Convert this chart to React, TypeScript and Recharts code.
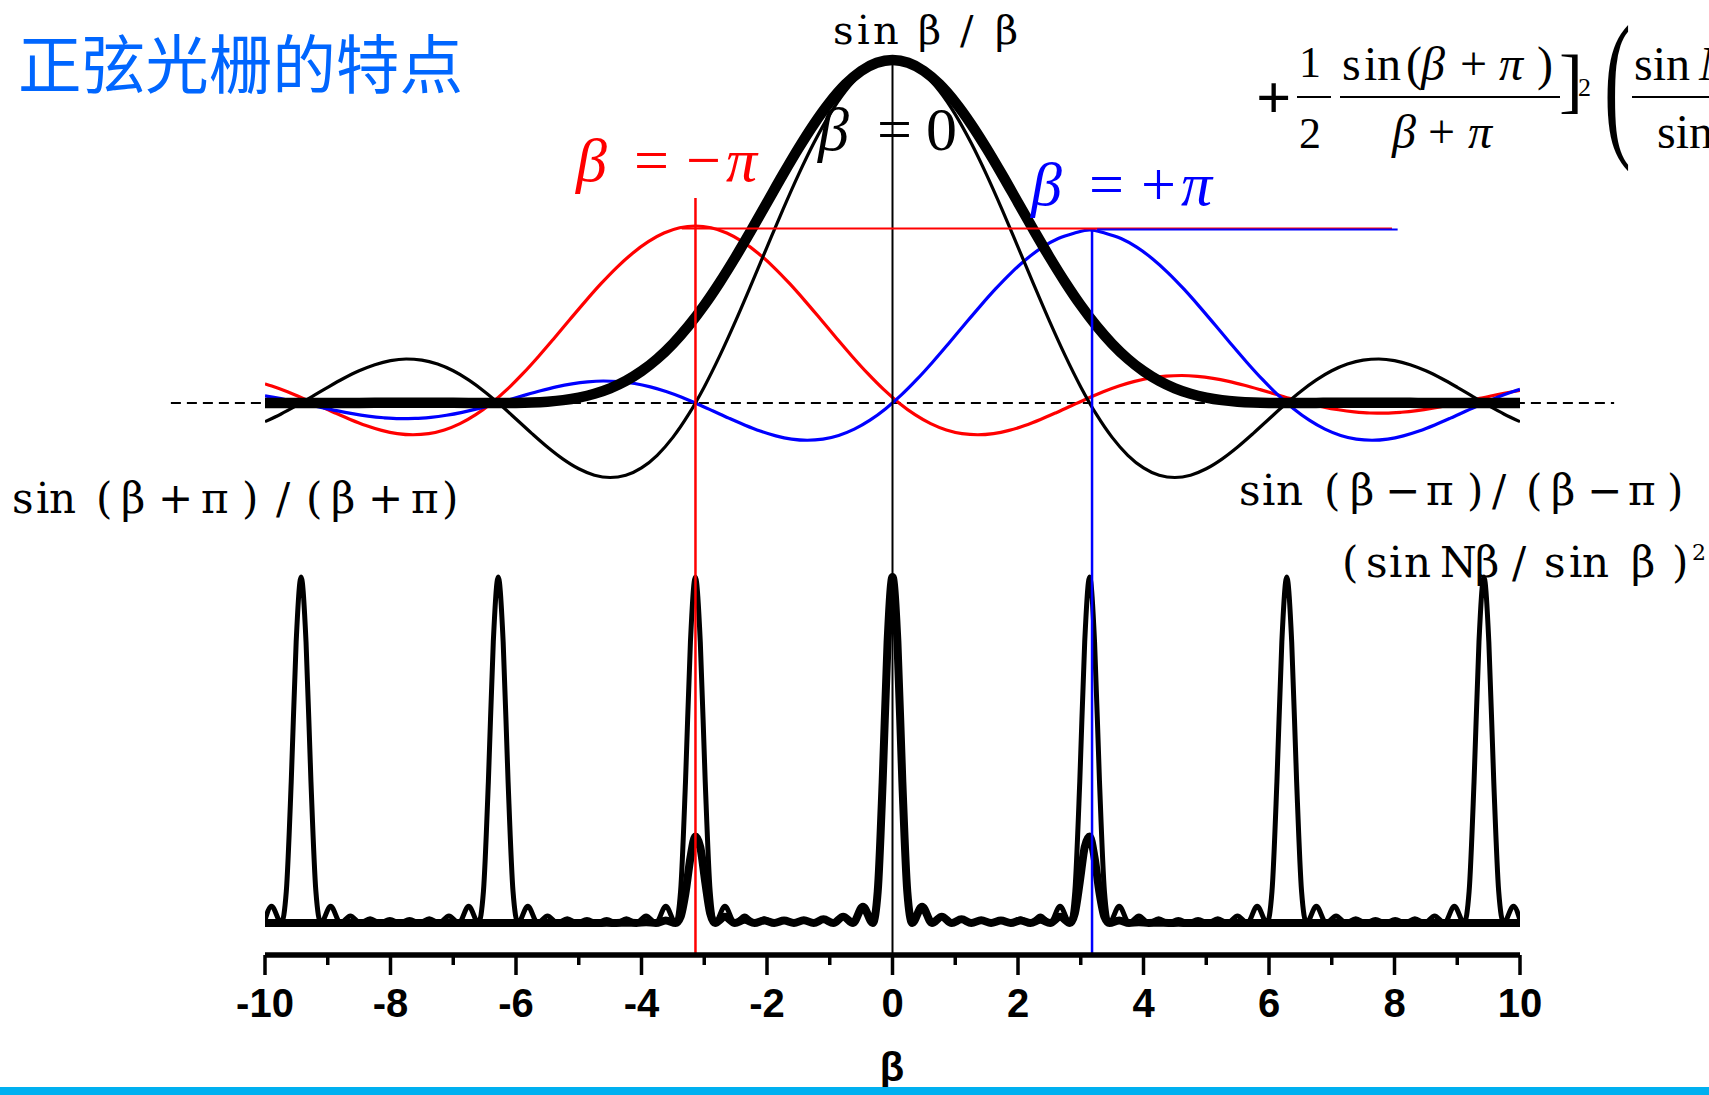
import React from 'react';
import { ComposedChart, Line, XAxis, YAxis, ReferenceLine } from 'recharts';

const W = 1709;
const H = 1095;

// ---------- upper panel (single-slit style curves), beta step 0.25 ----------
const betaUpper = [
  -10, -9.75, -9.5, -9.25, -9, -8.75, -8.5, -8.25, -8, -7.75, -7.5, -7.25, -7, -6.75, -6.5, -6.25,
  -6, -5.75, -5.5, -5.25, -5, -4.75, -4.5, -4.25, -4, -3.75, -3.5, -3.25, -3, -2.75, -2.5, -2.25,
  -2, -1.75, -1.5, -1.25, -1, -0.75, -0.5, -0.25, 0, 0.25, 0.5, 0.75, 1, 1.25, 1.5, 1.75,
  2, 2.25, 2.5, 2.75, 3, 3.25, 3.5, 3.75, 4, 4.25, 4.5, 4.75, 5, 5.25, 5.5, 5.75,
  6, 6.25, 6.5, 6.75, 7, 7.25, 7.5, 7.75, 8, 8.25, 8.5, 8.75, 9, 9.25, 9.5, 9.75, 10,
];

// sin(beta)/beta  (thin black)
const sincValues = [
  -0.0544, -0.0327, -0.0079, 0.0188, 0.0458, 0.0714, 0.0939, 0.1118, 0.1237, 0.1283, 0.1251, 0.1135, 0.0939, 0.0667, 0.0331, -0.0053,
  -0.0466, -0.0884, -0.1283, -0.1636, -0.1918, -0.2104, -0.2172, -0.2106, -0.1892, -0.1524, -0.1002, -0.0333, 0.047, 0.1388, 0.2394, 0.3458,
  0.4546, 0.5623, 0.665, 0.7592, 0.8415, 0.9089, 0.9589, 0.9896, 1, 0.9896, 0.9589, 0.9089, 0.8415, 0.7592, 0.665, 0.5623,
  0.4546, 0.3458, 0.2394, 0.1388, 0.047, -0.0333, -0.1002, -0.1524, -0.1892, -0.2106, -0.2172, -0.2104, -0.1918, -0.1636, -0.1283, -0.0884,
  -0.0466, -0.0053, 0.0331, 0.0667, 0.0939, 0.1135, 0.1251, 0.1283, 0.1237, 0.1118, 0.0939, 0.0714, 0.0458, 0.0188, -0.0079, -0.0327, -0.0544,
];

// squared sum envelope (thick black)
const envelopeValues = [
  0, 0, 0, 0, 0, 0.0001, 0.0002, 0.0004, 0.0005, 0.0006, 0.0007, 0.0007, 0.0006, 0.0003, 0.0001, 0,
  0.0003, 0.0014, 0.0039, 0.0083, 0.0157, 0.0268, 0.0427, 0.0644, 0.0928, 0.1287, 0.1727, 0.2248, 0.285, 0.3526, 0.4261, 0.5041,
  0.5843, 0.6647, 0.742, 0.8136, 0.8768, 0.929, 0.9679, 0.9918, 1, 0.9918, 0.9679, 0.929, 0.8768, 0.8136, 0.742, 0.6647,
  0.5843, 0.5041, 0.4261, 0.3526, 0.285, 0.2248, 0.1727, 0.1287, 0.0928, 0.0644, 0.0427, 0.0268, 0.0157, 0.0083, 0.0039, 0.0014,
  0.0003, 0, 0.0001, 0.0003, 0.0006, 0.0007, 0.0007, 0.0006, 0.0005, 0.0004, 0.0002, 0.0001, 0, 0, 0, 0, 0,
];

// sin(beta+pi)/(beta+pi) (red)
const redBeta = [
  -10, -9.8916, -9.6416, -9.3916, -9.1416, -8.8916, -8.6416, -8.3916, -8.1416, -7.8916, -7.6416, -7.3916, -7.1416, -6.8916,
  -6.6416, -6.3916, -6.1416, -5.8916, -5.6416, -5.3916, -5.1416, -4.8916, -4.6416, -4.3916, -4.1416, -3.8916, -3.6416, -3.3916,
  -3.1416, -2.8916, -2.6416, -2.3916, -2.1416, -1.8916, -1.6416, -1.3916, -1.1416, -0.8916, -0.6416, -0.3916, -0.1416, 0.1084,
  0.3584, 0.6084, 0.8584, 1.1084, 1.3584, 1.6084, 1.8584, 2.1084, 2.3584, 2.6084, 2.8584, 3.1084, 3.3584, 3.6084,
  3.8584, 4.1084, 4.3584, 4.6084, 4.8584, 5.1084, 5.3584, 5.6084, 5.8584, 6.1084, 6.3584, 6.6084, 6.8584, 7.1084,
  7.3584, 7.6084, 7.8584, 8.1084, 8.3584, 8.6084, 8.8584, 9.1084, 9.3584, 9.6084, 9.8584, 10,
];
const redValues = [
  0.0557, 0.0493, 0.0326, 0.0133, -0.0073, -0.0282, -0.0481, -0.0658, -0.0799, -0.0892, -0.0926, -0.0893, -0.0786, -0.0602,
  -0.0341, -0.0006, 0.0395, 0.0854, 0.1357, 0.1889, 0.2433, 0.2971, 0.3485, 0.3956, 0.4367, 0.4704, 0.4954, 0.5108,
  0.516, 0.5108, 0.4954, 0.4704, 0.4367, 0.3956, 0.3485, 0.2971, 0.2433, 0.1889, 0.1357, 0.0854, 0.0395, -0.0006,
  -0.0341, -0.0602, -0.0786, -0.0893, -0.0926, -0.0892, -0.0799, -0.0658, -0.0481, -0.0282, -0.0073, 0.0133, 0.0326, 0.0493,
  0.0629, 0.0728, 0.0785, 0.0802, 0.0778, 0.0719, 0.063, 0.0517, 0.0389, 0.0254, 0.012, -0.0004, -0.0112, -0.0198,
  -0.0259, -0.0291, -0.0295, -0.027, -0.0221, -0.015, -0.0064, 0.0033, 0.0133, 0.0232, 0.0322, 0.0367,
];

// sin(beta-pi)/(beta-pi) (blue)
const blueBeta = [
  -10, -9.8584, -9.6084, -9.3584, -9.1084, -8.8584, -8.6084, -8.3584, -8.1084, -7.8584, -7.6084, -7.3584, -7.1084, -6.8584,
  -6.6084, -6.3584, -6.1084, -5.8584, -5.6084, -5.3584, -5.1084, -4.8584, -4.6084, -4.3584, -4.1084, -3.8584, -3.6084, -3.3584,
  -3.1084, -2.8584, -2.6084, -2.3584, -2.1084, -1.8584, -1.6084, -1.3584, -1.1084, -0.8584, -0.6084, -0.3584, -0.1084, 0.1416,
  0.3916, 0.6416, 0.8916, 1.1416, 1.3916, 1.6416, 1.8916, 2.1416, 2.3916, 2.6416, 2.8916, 3.1416, 3.3916, 3.6416,
  3.8916, 4.1416, 4.3916, 4.6416, 4.8916, 5.1416, 5.3916, 5.6416, 5.8916, 6.1416, 6.3916, 6.6416, 6.8916, 7.1416,
  7.3916, 7.6416, 7.8916, 8.1416, 8.3916, 8.6416, 8.8916, 9.1416, 9.3916, 9.6416, 9.8916, 10,
];
const blueValues = [
  0.0207, 0.0162, 0.0072, -0.0027, -0.0127, -0.0224, -0.031, -0.0381, -0.043, -0.0455, -0.0451, -0.0419, -0.0358, -0.0272,
  -0.0164, -0.004, 0.0094, 0.0229, 0.0357, 0.047, 0.0559, 0.0618, 0.0642, 0.0625, 0.0568, 0.0469, 0.0333, 0.0166,
  -0.0027, -0.0233, -0.0442, -0.0641, -0.0818, -0.0959, -0.1052, -0.1086, -0.1053, -0.0946, -0.0762, -0.0501, -0.0166, 0.0235,
  0.0694, 0.1197, 0.1729, 0.2273, 0.2811, 0.3325, 0.3796, 0.4207, 0.4544, 0.4794, 0.4948, 0.505, 0.4948, 0.4794,
  0.4544, 0.4207, 0.3796, 0.3325, 0.2811, 0.2273, 0.1729, 0.1197, 0.0694, 0.0235, -0.0166, -0.0501, -0.0762, -0.0946,
  -0.1053, -0.1086, -0.1052, -0.0959, -0.0818, -0.0641, -0.0442, -0.0233, -0.0027, 0.0166, 0.0333, 0.0397,
];

// ---------- lower panel: grating factor (sinN beta / sin beta)^2 / N^2 and product ----------
const betaLower = [
  -10, -9.896, -9.7389, -9.6604, -9.5819, -9.5033,
  -9.4248, -9.3462, -9.2677, -9.1892, -9.1106, -8.9535, -8.7965, -8.6394, -8.4823, -8.3252, -8.1681, -8.0111,
  -7.854, -7.6969, -7.5398, -7.3827, -7.2257, -7.0686, -6.9115, -6.7544, -6.5973, -6.5188, -6.4403, -6.3617,
  -6.2832, -6.2046, -6.1261, -6.0476, -5.969, -5.8119, -5.6549, -5.4978, -5.3407, -5.1836, -5.0265, -4.8695,
  -4.7124, -4.5553, -4.3982, -4.2412, -4.0841, -3.927, -3.7699, -3.6128, -3.4558, -3.3772, -3.2987, -3.2201,
  -3.1416, -3.0631, -2.9845, -2.906, -2.8274, -2.6704, -2.5133, -2.3562, -2.1991, -2.042, -1.885, -1.7279,
  -1.5708, -1.4137, -1.2566, -1.0996, -0.9425, -0.7854, -0.6283, -0.4712, -0.3142, -0.2356, -0.1571, -0.0785,
  0, 0.0785, 0.1571, 0.2356, 0.3142, 0.4712, 0.6283, 0.7854, 0.9425, 1.0996, 1.2566, 1.4137,
  1.5708, 1.7279, 1.885, 2.042, 2.1991, 2.3562, 2.5133, 2.6704, 2.8274, 2.906, 2.9845, 3.0631,
  3.1416, 3.2201, 3.2987, 3.3772, 3.4558, 3.6128, 3.7699, 3.927, 4.0841, 4.2412, 4.3982, 4.5553,
  4.7124, 4.8695, 5.0265, 5.1836, 5.3407, 5.4978, 5.6549, 5.8119, 5.969, 6.0476, 6.1261, 6.2046,
  6.2832, 6.3617, 6.4403, 6.5188, 6.5973, 6.7544, 6.9115, 7.0686, 7.2257, 7.3827, 7.5398, 7.6969,
  7.854, 8.0111, 8.1681, 8.3252, 8.4823, 8.6394, 8.7965, 8.9535, 9.1106, 9.1892, 9.2677, 9.3462,
  9.4248, 9.5033, 9.5819, 9.6604, 9.7389, 9.896, 10,
];
const gratingValues = [
  0.0087, 0.0485, 0, 0.0917, 0.4086, 0.8123,
  1, 0.8123, 0.4086, 0.0917, 0, 0.0485, 0, 0.02, 0, 0.0126, 0, 0.0103,
  0, 0.0103, 0, 0.0126, 0, 0.02, 0, 0.0485, 0, 0.0917, 0.4086, 0.8123,
  1, 0.8123, 0.4086, 0.0917, 0, 0.0485, 0, 0.02, 0, 0.0126, 0, 0.0103,
  0, 0.0103, 0, 0.0126, 0, 0.02, 0, 0.0485, 0, 0.0917, 0.4086, 0.8123,
  1, 0.8123, 0.4086, 0.0917, 0, 0.0485, 0, 0.02, 0, 0.0126, 0, 0.0103,
  0, 0.0103, 0, 0.0126, 0, 0.02, 0, 0.0485, 0, 0.0917, 0.4086, 0.8123,
  1, 0.8123, 0.4086, 0.0917, 0, 0.0485, 0, 0.02, 0, 0.0126, 0, 0.0103,
  0, 0.0103, 0, 0.0126, 0, 0.02, 0, 0.0485, 0, 0.0917, 0.4086, 0.8123,
  1, 0.8123, 0.4086, 0.0917, 0, 0.0485, 0, 0.02, 0, 0.0126, 0, 0.0103,
  0, 0.0103, 0, 0.0126, 0, 0.02, 0, 0.0485, 0, 0.0917, 0.4086, 0.8123,
  1, 0.8123, 0.4086, 0.0917, 0, 0.0485, 0, 0.02, 0, 0.0126, 0, 0.0103,
  0, 0.0103, 0, 0.0126, 0, 0.02, 0, 0.0485, 0, 0.0917, 0.4086, 0.8123,
  1, 0.8123, 0.4086, 0.0917, 0, 0.0485, 0.0087,
];
const productValues = [
  0, 0, 0, 0, 0, 0,
  0, 0, 0, 0, 0, 0, 0, 0, 0, 0, 0, 0,
  0, 0, 0, 0, 0, 0, 0, 0, 0, 0, 0, 0,
  0, 0, 0, 0, 0, 0, 0, 0.0001, 0, 0.0001, 0, 0.0002,
  0, 0.0004, 0, 0.0008, 0, 0.0021, 0, 0.0074, 0, 0.0181, 0.0874, 0.1887,
  0.25, 0.2192, 0.1187, 0.0284, 0, 0.0182, 0, 0.0094, 0, 0.0072, 0, 0.0069,
  0, 0.0079, 0, 0.0107, 0, 0.0184, 0, 0.0471, 0, 0.091, 0.4073, 0.8116,
  1, 0.8116, 0.4073, 0.091, 0, 0.0471, 0, 0.0184, 0, 0.0107, 0, 0.0079,
  0, 0.0069, 0, 0.0072, 0, 0.0094, 0, 0.0182, 0, 0.0284, 0.1187, 0.2192,
  0.25, 0.1887, 0.0874, 0.0181, 0, 0.0074, 0, 0.0021, 0, 0.0008, 0, 0.0004,
  0, 0.0002, 0, 0.0001, 0, 0.0001, 0, 0, 0, 0, 0, 0,
  0, 0, 0, 0, 0, 0, 0, 0, 0, 0, 0, 0,
  0, 0, 0, 0, 0, 0, 0, 0, 0, 0, 0, 0,
  0, 0, 0, 0, 0, 0, 0,
];

// axis ticks
const xTicks = [-10, -9, -8, -7, -6, -5, -4, -3, -2, -1, 0, 1, 2, 3, 4, 5, 6, 7, 8, 9, 10];

// marker lines (beta positions and levels, in upper-panel units)
const zeroMarkBeta = 0;
const redMarkBeta = -3.14;
const blueMarkBeta = 3.18;
const redLevel = 0.509;
const blueLevel = 0.506;
const redLevelSpan = [-3.36, 7.96];
const blueLevelSpan = [3.26, 8.05];
const dashedSpan = [-11.5, 11.5];

const UP_DOMAIN = [-1.6093, 1.1749];
const LOW_DOMAIN = [-0.0925, 2.6676];

const toPoints = (xs: number[], ys: number[]) => xs.map((x, i) => ({ x, y: ys[i] }));

const sincData = toPoints(betaUpper, sincValues);
const envelopeData = toPoints(betaUpper, envelopeValues);
const redData = toPoints(redBeta, redValues);
const blueData = toPoints(blueBeta, blueValues);
const gratingData = toPoints(betaLower, gratingValues);
const productData = toPoints(betaLower, productValues);

const AxisTick = (props: any) => {
  const { x, y, payload } = props;
  const v = payload.value;
  const major = v % 2 === 0;
  return (
    <g>
      <line x1={x} x2={x} y1={y} y2={y + (major ? 20 : 10)} stroke="#000" strokeWidth={3.5} />
      {major && (
        <text
          x={x}
          y={y + 62}
          textAnchor="middle"
          fontFamily="'Liberation Sans', Arial, sans-serif"
          fontWeight="bold"
          fontSize={40}
          fill="#000"
        >
          {String(v)}
        </text>
      )}
    </g>
  );
};

const SERIF = "'Liberation Serif', 'Times New Roman', serif";
const SIMSERIF = "'DejaVu Serif', serif";

export default function App() {
  const common = { type: 'monotone' as const, dataKey: 'y', dot: false, activeDot: false, isAnimationActive: false, legendType: 'none' as const };
  return (
    <div style={{ position: 'absolute', left: 0, top: 0, width: W, height: H, background: '#fff', overflow: 'hidden' }}>
      <ComposedChart width={W} height={H} margin={{ top: 0, right: 189, left: 265, bottom: 40 }}>
        <XAxis
          type="number"
          dataKey="x"
          domain={[-10, 10]}
          ticks={xTicks}
          interval={0}
          height={100}
          tickSize={0}
          tickMargin={0}
          tickLine={false}
          axisLine={{ stroke: '#000', strokeWidth: 5.5 }}
          tick={<AxisTick />}
          allowDataOverflow
        />
        <YAxis yAxisId="up" type="number" domain={UP_DOMAIN} hide allowDataOverflow />
        <YAxis yAxisId="low" type="number" domain={LOW_DOMAIN} hide allowDataOverflow />

        <ReferenceLine
          yAxisId="up"
          segment={[{ x: dashedSpan[0], y: 0 }, { x: dashedSpan[1], y: 0 }]}
          ifOverflow="visible"
          stroke="#000"
          strokeWidth={1.8}
          strokeDasharray="10 6"
        />

        <Line {...common} yAxisId="up" data={redData} stroke="#ff0000" strokeWidth={3.2} />
        <Line {...common} yAxisId="up" data={blueData} stroke="#0000ff" strokeWidth={3.2} />
        <Line {...common} yAxisId="up" data={sincData} stroke="#000" strokeWidth={3.2} />
        <Line {...common} yAxisId="up" data={envelopeData} stroke="#000" strokeWidth={10.5} />

        <Line {...common} yAxisId="low" data={gratingData} stroke="#000" strokeWidth={5} />
        <Line {...common} yAxisId="low" data={productData} stroke="#000" strokeWidth={8} />

        <ReferenceLine
          yAxisId="up"
          segment={[{ x: zeroMarkBeta, y: 0.99 }, { x: zeroMarkBeta, y: UP_DOMAIN[0] }]}
          ifOverflow="visible"
          stroke="#000"
          strokeWidth={2}
        />
        <ReferenceLine
          yAxisId="up"
          segment={[{ x: redMarkBeta, y: 0.598 }, { x: redMarkBeta, y: UP_DOMAIN[0] }]}
          ifOverflow="visible"
          stroke="#ff0000"
          strokeWidth={2.5}
        />
        <ReferenceLine
          yAxisId="up"
          segment={[{ x: blueMarkBeta, y: blueLevel }, { x: blueMarkBeta, y: UP_DOMAIN[0] }]}
          ifOverflow="visible"
          stroke="#0000ff"
          strokeWidth={2.5}
        />
        <ReferenceLine
          yAxisId="up"
          segment={[{ x: redLevelSpan[0], y: redLevel }, { x: redLevelSpan[1], y: redLevel }]}
          ifOverflow="visible"
          stroke="#ff0000"
          strokeWidth={2}
        />
        <ReferenceLine
          yAxisId="up"
          segment={[{ x: blueLevelSpan[0], y: blueLevel }, { x: blueLevelSpan[1], y: blueLevel }]}
          ifOverflow="visible"
          stroke="#0000ff"
          strokeWidth={2}
        />
      </ComposedChart>

      <svg width={W} height={H} style={{ position: 'absolute', left: 0, top: 0, pointerEvents: 'none' }}>
        {/* title */}
        <text x={18} y={88} fontFamily="'Noto Sans CJK SC', sans-serif" fontSize={64} fill="#0066ff" textLength={445} lengthAdjust="spacingAndGlyphs">
          正弦光栅的特点
        </text>

        {/* sin beta / beta */}
        <text x="833 857 873 918 960 995" y={44} fontFamily={SIMSERIF} fontSize={40} fill="#000">
          sinβ/β
        </text>

        {/* beta = 0 */}
        <text y={150} fontFamily={SERIF} fontSize={62} fill="#000">
          <tspan x={818} fontStyle="italic">β</tspan>
          <tspan x={877}>=</tspan>
          <tspan x={926}>0</tspan>
        </text>
        {/* beta = -pi */}
        <text y={181} fontFamily={SERIF} fontSize={62} fill="#ff0000">
          <tspan x={576} fontStyle="italic">β</tspan>
          <tspan x={634}>=</tspan>
          <tspan x={686}>−</tspan>
          <tspan x={726} fontStyle="italic">π</tspan>
        </text>
        {/* beta = +pi */}
        <text y={205} fontFamily={SERIF} fontSize={62} fill="#0000ff">
          <tspan x={1031} fontStyle="italic">β</tspan>
          <tspan x={1089}>=</tspan>
          <tspan x={1141}>+</tspan>
          <tspan x={1181} fontStyle="italic">π</tspan>
        </text>

        {/* left label */}
        <text x="12 36 49 96 121 158 201 242 276 306 331 368 411 442" y={513} fontFamily={SIMSERIF} fontSize={42} fill="#000">
          sin(β+π)/(β+π)
        </text>
        {/* right labels */}
        <text x="1239 1262 1276 1324 1350 1385 1426 1467 1492 1526 1551 1587 1628 1667" y={505} fontFamily={SIMSERIF} fontSize={42} fill="#000">
          sin(β−π)/(β−π)
        </text>
        <text x="1342 1366 1389 1404 1440 1475 1512 1544 1569 1582 1631 1672" y={577} fontFamily={SIMSERIF} fontSize={42} fill="#000">
          (sinNβ/sinβ)
        </text>
        <text x={1692} y={560} fontFamily={SIMSERIF} fontSize={22} fill="#000">2</text>

        {/* top-right formula */}
        <g fontFamily={SERIF} fill="#000">
          <text x={1256} y={118} fontSize={62} fontWeight="bold">+</text>
          <text x={1299} y={77} fontSize={44}>1</text>
          <line x1={1297} x2={1331} y1={97} y2={97} stroke="#000" strokeWidth={2} />
          <text x={1299} y={148} fontSize={44}>2</text>
          <text y={80} fontSize={48}>
            <tspan x="1342 1364 1377 1406">sin(</tspan>
            <tspan x={1421} fontStyle="italic">β</tspan>
            <tspan x={1460}>+</tspan>
            <tspan x={1499} fontStyle="italic">π</tspan>
            <tspan x={1537}>)</tspan>
          </text>
          <line x1={1340} x2={1560} y1={97} y2={97} stroke="#000" strokeWidth={2} />
          <text y={148} fontSize={48}>
            <tspan x={1392} fontStyle="italic">β</tspan>
            <tspan x={1428}>+</tspan>
            <tspan x={1468} fontStyle="italic">π</tspan>
          </text>
          <text x={1559} y={104} fontSize={72}>]</text>
          <text x={1578} y={96} fontSize={26}>2</text>
          <text transform="translate(1604,137) scale(0.5,1)" fontSize={160}>(</text>
          <text y={80} fontSize={48}>
            <tspan x={1634}>sin</tspan>
            <tspan x={1699} fontStyle="italic">Nβ</tspan>
          </text>
          <line x1={1632} x2={1709} y1={97} y2={97} stroke="#000" strokeWidth={2} />
          <text y={148} fontSize={48}>
            <tspan x={1657}>sin</tspan>
            <tspan x={1722} fontStyle="italic">β</tspan>
          </text>
        </g>

        {/* axis title */}
        <text x={892} y={1081} textAnchor="middle" fontFamily="'Liberation Sans', Arial, sans-serif" fontWeight="bold" fontSize={40} fill="#000">
          β
        </text>
        <rect x={0} y={1087} width={W} height={8} fill="#00b0f0" />
      </svg>
    </div>
  );
}
